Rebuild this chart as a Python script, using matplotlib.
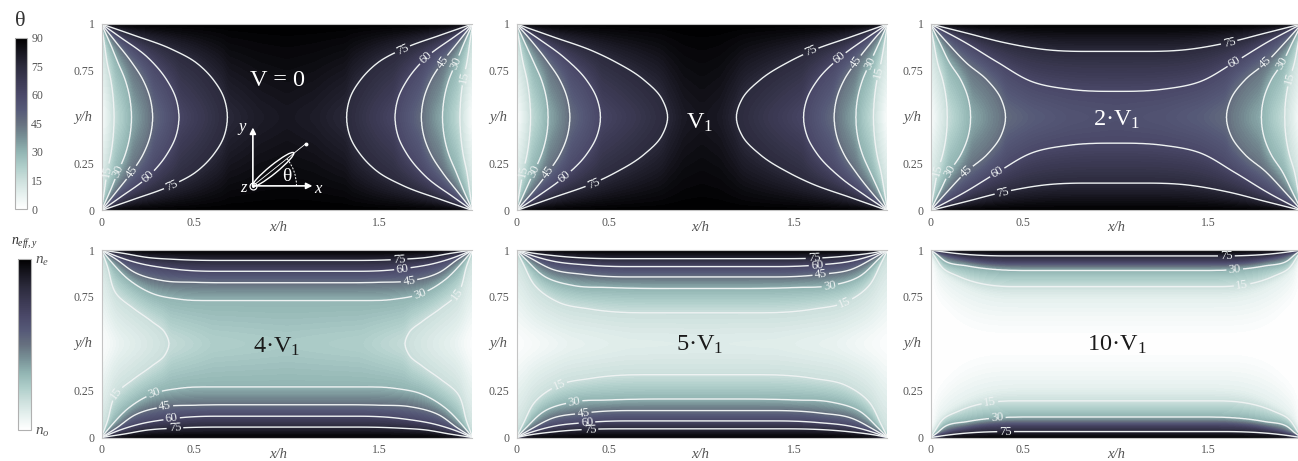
import numpy as np
import matplotlib
matplotlib.use("Agg")
import matplotlib.pyplot as plt
from matplotlib.colors import LinearSegmentedColormap, Normalize
from matplotlib.cm import ScalarMappable
from matplotlib.patches import Ellipse, Arc
from matplotlib.transforms import blended_transform_factory

OUT = "out.png"

# colour scale
CMAP_VALUES = [0, 8, 15, 22, 30, 38, 45, 52, 60, 68, 75, 82, 90]
CMAP_COLORS = ["#ffffff", "#e5f0ee", "#cde0dd", "#b0cfcb", "#92b5b3", "#778f95", "#66707f",
               "#565a78", "#4a4868", "#3b3952", "#2c2b3d", "#191822", "#000000"]

TITLES = ["V = 0", "V$_1$", "2·V$_1$", "4·V$_1$", "5·V$_1$", "10·V$_1$"]
THETA_TICKS = [0, 15, 30, 45, 60, 75, 90]
X_TICKS = [0, 0.5, 1.5, 2]
Y_TICKS = [0, 0.25, 0.75, 1]

# iso-theta curves in the lower left quarter of each panel (x/h, y/h)
V0_CURVES = {
    75: [(0, 0), (0.171, 0.059), (0.378, 0.135), (0.514, 0.21), (0.604, 0.30), (0.658, 0.39), (0.679, 0.5)],
    60: [(0, 0), (0.10, 0.07), (0.252, 0.182), (0.352, 0.30), (0.402, 0.40), (0.418, 0.5)],
    45: [(0, 0), (0.08, 0.10), (0.162, 0.204), (0.224, 0.30), (0.263, 0.40), (0.276, 0.5)],
    30: [(0, 0), (0.045, 0.10), (0.09, 0.209), (0.128, 0.30), (0.1535, 0.40), (0.162, 0.5)],
    15: [(0, 0), (0.015, 0.10), (0.031, 0.209), (0.0505, 0.30), (0.0636, 0.40), (0.068, 0.5)],
}
V1_CURVES = {
    75: [(0, 0), (0.2, 0.07), (0.414, 0.146), (0.527, 0.20), (0.687, 0.30), (0.783, 0.40), (0.815, 0.5)],
    60: [(0, 0), (0.12, 0.08), (0.26, 0.182), (0.377, 0.30), (0.434, 0.40), (0.453, 0.5)],
    45: [(0, 0), (0.08, 0.09), (0.17, 0.204), (0.234, 0.30), (0.2745, 0.40), (0.288, 0.5)],
    30: [(0, 0), (0.045, 0.10), (0.095, 0.209), (0.135, 0.30), (0.162, 0.40), (0.171, 0.5)],
    15: [(0, 0), (0.015, 0.09), (0.036, 0.209), (0.057, 0.30), (0.071, 0.40), (0.076, 0.5)],
}
V2_CURVES = {
    75: [(0, 0), (0.2, 0.05), (0.39, 0.098), (0.6, 0.135), (1, 0.146)],
    60: [(0, 0), (0.18, 0.095), (0.36, 0.204), (0.55, 0.31), (0.75, 0.35), (1, 0.361)],
    45: [(0, 0), (0.09, 0.10), (0.194, 0.209), (0.305, 0.30), (0.38, 0.40), (0.405, 0.5)],
    30: [(0, 0), (0.05, 0.10), (0.104, 0.209), (0.164, 0.30), (0.204, 0.40), (0.217, 0.5)],
    15: [(0, 0), (0.018, 0.10), (0.041, 0.218), (0.066, 0.30), (0.085, 0.40), (0.091, 0.5)],
}
V4_CURVES = {
    75: [(0, 0), (0.12, 0.018), (0.25, 0.04), (0.396, 0.05), (1, 0.052)],
    60: [(0, 0), (0.1, 0.04), (0.2, 0.07), (0.378, 0.1), (1, 0.105)],
    45: [(0, 0), (0.08, 0.05), (0.18, 0.12), (0.342, 0.165), (0.5, 0.172), (1, 0.172)],
    30: [(0, 0), (0.05, 0.06), (0.15, 0.16), (0.283, 0.235), (0.42, 0.262), (0.7, 0.268), (1, 0.268)],
    15: [(0, 0), (0.03, 0.08), (0.081, 0.235), (0.171, 0.31), (0.27, 0.38), (0.342, 0.44), (0.364, 0.5)],
}
V5_CURVES = {
    75: [(0, 0), (0.06, 0.012), (0.2, 0.03), (1, 0.04)],
    60: [(0, 0), (0.07, 0.025), (0.2, 0.06), (0.38, 0.08), (1, 0.082)],
    45: [(0, 0), (0.07, 0.04), (0.2, 0.105), (0.36, 0.13), (1, 0.136)],
    30: [(0, 0), (0.05, 0.05), (0.15, 0.14), (0.311, 0.19), (0.5, 0.2), (1, 0.205)],
    15: [(0, 0), (0.035, 0.07), (0.10, 0.19), (0.23, 0.28), (0.4, 0.315), (1, 0.33)],
}
V10_CURVES = {
    75: [(0, 0), (0.04, 0.006), (0.1, 0.014), (1, 0.018)],
    60: [(0, 0), (0.05, 0.01), (0.12, 0.03), (1, 0.04)],
    45: [(0, 0), (0.04, 0.015), (0.1, 0.04), (0.2, 0.06), (1, 0.065)],
    30: [(0, 0), (0.03, 0.02), (0.08, 0.06), (0.2, 0.085), (1, 0.095)],
    15: [(0, 0), (0.02, 0.03), (0.07, 0.10), (0.15, 0.14), (1, 0.155)],
    8: [(0, 0), (0.03, 0.06), (0.1, 0.14), (0.2, 0.2), (1, 0.21)],
    1: [(0, 0), (0.02, 0.1), (0.05, 0.25), (0.12, 0.33), (1, 0.35)],
}

# theta along the mid line y/h = 0.5, on top of where the curves above reach it
V0_MID = [(0.85, 80), (1, 82)]
V1_MID = [(0.9, 81), (1, 83)]
V2_MID = [(0.55, 50), (0.75, 54), (1, 56)]
V4_MID = [(0.1, 6), (0.6, 21), (1, 23)]
V5_MID = [(0.1, 2), (0.3, 6), (0.6, 8.5), (1, 9)]
V10_MID = [(1, 0)]

# where the labels sit on each curve, x/h
V0_LABEL_X = {75: 0.378, 60: 0.252, 45: 0.162, 30: 0.09, 15: 0.031}
V1_LABEL_X = {75: 0.414, 60: 0.26, 45: 0.17, 30: 0.095, 15: 0.036}
V2_LABEL_X = {75: 0.39, 60: 0.36, 45: 0.194, 30: 0.104, 15: 0.041}
V4_LABEL_X = {75: 0.396, 60: 0.378, 45: 0.342, 30: 0.283, 15: 0.081}
V5_LABEL_X = {75: 0.396, 60: 0.38, 45: 0.36, 30: 0.311, 15: 0.23}
V10_LABEL_X = {75: 0.405, 30: 0.36, 15: 0.32}

ALL_CURVES = [V0_CURVES, V1_CURVES, V2_CURVES, V4_CURVES, V5_CURVES, V10_CURVES]
ALL_MID = [V0_MID, V1_MID, V2_MID, V4_MID, V5_MID, V10_MID]
ALL_LABEL_X = [V0_LABEL_X, V1_LABEL_X, V2_LABEL_X, V4_LABEL_X, V5_LABEL_X, V10_LABEL_X]

W, H = 1298, 461
PX_PER_UNIT = 185.5
TEXT_GREY = "#555555"
LINE_WHITE = "#eef2f2"

plt.rcParams["font.family"] = ["Liberation Serif", "DejaVu Serif"]
plt.rcParams["mathtext.fontset"] = "custom"
plt.rcParams["mathtext.rm"] = "Liberation Serif"
plt.rcParams["mathtext.it"] = "Liberation Serif:italic"
plt.rcParams["mathtext.default"] = "regular"

cmap = LinearSegmentedColormap.from_list(
    "theta", [(v / 90, c) for v, c in zip(CMAP_VALUES, CMAP_COLORS)], N=256)


def px_axes(fig, left, top, right, bottom):
    return fig.add_axes([left / W, 1 - bottom / H, (right - left) / W, (bottom - top) / H])


def smooth_curve(points):
    # hermite spline through the read points, mirrored over the mid line so the end is flat
    pts = np.array(points, dtype=float)
    tip = pts[-1, 1] >= 0.5
    if tip:
        mirror = np.column_stack([pts[-2::-1, 0], 1 - pts[-2::-1, 1]])
    else:
        mirror = np.column_stack([2 - pts[-2::-1, 0], pts[-2::-1, 1]])
    p = np.vstack([pts, mirror])
    t = np.concatenate([[0], np.cumsum(np.hypot(*np.diff(p, axis=0).T))])
    m = np.gradient(p, t, axis=0)
    out = []
    for i in range(len(pts) - 1):
        dt = t[i + 1] - t[i]
        s = np.linspace(0, 1, 24, endpoint=False)[:, None]
        out.append((2 * s**3 - 3 * s**2 + 1) * p[i] + (s**3 - 2 * s**2 + s) * dt * m[i]
                   + (-2 * s**3 + 3 * s**2) * p[i + 1] + (s**3 - s**2) * dt * m[i + 1])
    out.append(pts[-1:])
    c = np.vstack(out)
    c = np.maximum.accumulate(c, axis=0)
    return c, tip


def box_blur(z, width, axis):
    kernel = np.ones(width) / width
    pad = width // 2

    def one(a):
        for _ in range(3):
            a = np.convolve(np.pad(a, pad, mode="reflect"), kernel, mode="valid")
        return a

    return np.apply_along_axis(one, axis, z)


def shade_field(y, z):
    # soft everywhere, softer still around the mid line so no ridge shows there
    soft = box_blur(box_blur(z, 11, 0), 11, 1)
    wide = box_blur(soft, 45, 0)
    mix = np.exp(-((y - 0.5) / 0.12) ** 2)[:, None]
    return (1 - mix) * soft + mix * wide


def build_field(curves, mid):
    xs = np.linspace(0.001, 1, 500)
    ys = np.linspace(0, 0.5, 300)
    smooth = {lev: smooth_curve(pts) for lev, pts in curves.items()}

    # mid line knots: zero at the wall, each tip where it reaches y/h = 0.5
    knots = [(0.0, 0.0)] + [(c[-1, 0], lev) for lev, (c, tip) in smooth.items() if tip] + list(mid)
    knots = sorted(knots)
    mid_x = [k[0] for k in knots]
    mid_t = [k[1] for k in knots]

    levels = sorted(smooth, reverse=True)
    quarter = np.zeros((len(ys), len(xs)))
    for i, x in enumerate(xs):
        ky = [0.0]
        kt = [90.0]
        for lev in levels:
            c, tip = smooth[lev]
            if x >= c[-1, 0] and tip:
                continue
            ky.append(float(np.interp(x, c[:, 0], c[:, 1])))
            kt.append(float(lev))
        ky.append(0.5)
        kt.append(float(np.interp(x, mid_x, mid_t)))
        ky = np.maximum.accumulate(ky) + 1e-7 * np.arange(len(ky))
        quarter[:, i] = np.interp(ys, ky, kt)

    left = np.vstack([quarter, quarter[-2::-1, :]])
    z = np.hstack([left, left[:, -2::-1]])
    x_all = np.concatenate([xs, 2 - xs[-2::-1]])
    y_all = np.concatenate([ys, 1 - ys[-2::-1]])
    return x_all, y_all, z, smooth


def draw_panel(fig, box, idx, xh_at):
    ax = px_axes(fig, *box)
    x, y, z, smooth = build_field(ALL_CURVES[idx], ALL_MID[idx])
    xmax = min(2, (box[2] - box[0]) / PX_PER_UNIT)
    ax.contourf(x, y, shade_field(y, z), levels=np.linspace(0, 90, 91), cmap=cmap, vmin=0, vmax=90)

    label_x = ALL_LABEL_X[idx]
    shown = sorted(label_x)
    cs = ax.contour(x, y, z, levels=shown, colors=LINE_WHITE, linewidths=1.0)
    spots = []
    for lev in shown:
        c = smooth[lev][0]
        lx = label_x[lev]
        spots.append((lx, float(np.interp(lx, c[:, 0], c[:, 1]))))
        # same spot turned by 180 degrees, kept inside the cropped panels
        rx = max(lx, 2 - xmax + 0.045)
        spots.append((2 - rx, 1 - float(np.interp(rx, c[:, 0], c[:, 1]))))
    ax.clabel(cs, fmt="%d", fontsize=9, colors=LINE_WHITE, inline=True, inline_spacing=2, manual=spots)

    ax.set_xlim(0, xmax)
    ax.set_ylim(0, 1)
    ticks = [t for t in X_TICKS if t <= xmax]
    ax.set_xticks(ticks)
    ax.set_xticklabels([f"{t:g}" for t in ticks])
    ax.set_yticks(Y_TICKS)
    ax.set_yticklabels([f"{t:g}" for t in Y_TICKS])
    ax.tick_params(length=0, labelsize=8.5, labelcolor=TEXT_GREY, pad=5)
    for s in ax.spines.values():
        s.set_color("#c4c4c4")
        s.set_linewidth(0.8)
    if xmax < 2:
        ax.spines["right"].set_visible(False)
    trans = blended_transform_factory(ax.transData, ax.transAxes)
    ax.text(xh_at, -0.092, "x/h", transform=trans, ha="center", va="center", style="italic",
            fontsize=10.5, color=TEXT_GREY)
    ax.text(-0.024 * 2 / xmax, 0.5, "y/h", transform=ax.transAxes, ha="right", va="center",
            style="italic", fontsize=10.5, color=TEXT_GREY)
    return ax


def draw_sketch(ax):
    # little axes and molecule drawn in the first panel
    ox, oy = 0.816, 0.132
    arrow = dict(arrowstyle="-|>", color="white", lw=1.2, mutation_scale=9, shrinkA=0, shrinkB=0)
    ax.annotate("", xy=(ox, 0.445), xytext=(ox, oy), arrowprops=arrow)
    ax.annotate("", xy=(1.137, oy), xytext=(ox, oy), arrowprops=arrow)
    ax.plot([ox, 1.10], [oy, 0.357], color="white", lw=0.6)
    ax.plot([1.10], [0.357], "o", color="white", ms=1.8)
    ax.add_patch(Ellipse((0.925, 0.22), 0.285, 0.045, angle=39, fill=False, ec="white", lw=1.0))
    ax.add_patch(Arc((ox, oy), 0.47, 0.47, theta1=0, theta2=39, ec="white", lw=0.7, ls=(0, (2, 1.5))))
    ax.plot([ox], [oy], "o", mfc="none", mec="white", ms=5, mew=0.9)
    ax.plot([ox], [oy], "o", color="white", ms=1.2)
    ax.text(1.0, 0.18, "θ", color="white", fontsize=14, ha="center", va="center")
    ax.text(1.165, 0.113, "x", color="white", fontsize=12, style="italic", ha="center", va="center")
    ax.text(0.76, 0.45, "y", color="white", fontsize=12, style="italic", ha="center", va="center")
    ax.text(0.765, 0.118, "z", color="white", fontsize=12, style="italic", ha="center", va="center")


def draw_colorbar(fig, box, ticks, labels, size):
    cax = px_axes(fig, *box)
    cb = fig.colorbar(ScalarMappable(Normalize(0, 90), cmap), cax=cax)
    cb.set_ticks(ticks)
    cb.set_ticklabels(labels)
    cb.ax.tick_params(length=0, labelsize=size, labelcolor=TEXT_GREY, pad=3)
    cb.outline.set_edgecolor("#b0b0b0")
    cb.outline.set_linewidth(0.8)
    return cb


def main():
    fig = plt.figure(figsize=(W / 100, H / 100), dpi=100)

    boxes = [
        (101.5, 24, 472, 210.5), (516.5, 24, 887, 210.5), (930.5, 24, 1298, 210.5),
        (101.5, 250, 472, 437.5), (516.5, 250, 887, 437.5), (930.5, 250, 1298, 437.5),
    ]
    xh_spots = [0.95, 0.99, 1.0, 0.95, 0.99, 1.0]
    title_spots = [(278, 81), (700, 123), (1117, 120), (277, 347), (700, 345), (1117, 345)]
    for i, box in enumerate(boxes):
        ax = draw_panel(fig, box, i, xh_spots[i])
        color = "white" if i < 3 else "#1a1a1a"
        fig.text(title_spots[i][0] / W, 1 - title_spots[i][1] / H, TITLES[i], ha="center", va="center",
                 fontsize=17.5, color=color)
        if i == 0:
            draw_sketch(ax)

    draw_colorbar(fig, (15, 38, 27, 209), THETA_TICKS, [str(t) for t in THETA_TICKS], 8.5)
    fig.text(20 / W, 1 - 21 / H, "θ", fontsize=16, ha="center", va="center", color="#333333")

    draw_colorbar(fig, (18, 259, 31, 430), [0, 90], ["$\\mathit{n_o}$", "$\\mathit{n_e}$"], 11)
    fig.text(24 / W, 1 - 243 / H, "$\\mathit{n_{eff,y}}$", fontsize=10, ha="center", va="center",
             color="#333333")

    fig.savefig(OUT, dpi=100)


if __name__ == "__main__":
    main()
